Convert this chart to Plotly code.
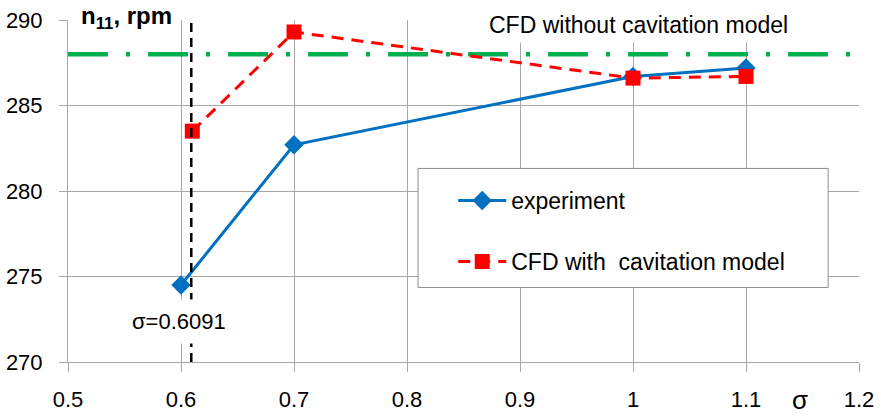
import plotly.graph_objects as go

# ---- data ----
sigma_exp = [0.6, 0.7, 1.0, 1.1]
n11_exp = [274.5, 282.7, 286.7, 287.2]

sigma_cfd = [0.61, 0.7, 1.0, 1.1]
n11_cfd = [283.5, 289.3, 286.6, 286.7]

sigma_nocav = [0.5, 1.2]
n11_nocav = [288, 288]

sigma_crit = 0.6091

x_ticks = [0.5, 0.6, 0.7, 0.8, 0.9, 1.0, 1.1, 1.2]
x_tick_text = ["0.5", "0.6", "0.7", "0.8", "0.9", "1", "1.1", "1.2"]
y_ticks = [270, 275, 280, 285, 290]
y_tick_text = ["270", "275", "280", "285", "290"]

FONT = "Liberation Sans"
GRID = "#a6a6a6"

fig = go.Figure()

fig.add_trace(go.Scatter(
    x=sigma_nocav, y=n11_nocav, mode="lines", showlegend=False,
    line=dict(color="#00b050", width=4.5, dash="40px,18px,4px,18px"),
    hoverinfo="skip",
))
fig.add_trace(go.Scatter(
    x=sigma_exp, y=n11_exp, mode="lines+markers", name="experiment",
    legendgroup="a",
    line=dict(color="#0070c0", width=3),
    marker=dict(symbol="diamond", size=15, color="#0070c0"),
))
fig.add_trace(go.Scatter(
    x=sigma_cfd, y=n11_cfd, mode="lines+markers", name="CFD with  cavitation model",
    legendgroup="b",
    line=dict(color="#ff0000", width=3, dash="12px,8px"),
    marker=dict(symbol="square", size=15, color="#ff0000"),
))

# vertical critical sigma line
fig.add_shape(type="line", xref="x", yref="y",
              x0=sigma_crit, x1=sigma_crit, y0=y_ticks[0], y1=y_ticks[-1],
              line=dict(color="black", width=2.5, dash="9px,6px"), layer="above")

# legend box
fig.add_shape(type="rect", xref="paper", yref="paper",
              x0=0.4425, x1=0.961, y0=0.218, y1=0.566,
              fillcolor="white", line=dict(color="#8c8c8c", width=1), layer="above")

fig.add_annotation(text="<b>n<sub>11</sub>, rpm</b>", xref="paper", yref="paper",
                   x=0.0101, y=1.0073, xanchor="left", yanchor="middle",
                   showarrow=False, font=dict(family=FONT, size=24, color="black"),
                   bgcolor="white", borderpad=4)
fig.add_annotation(text="CFD without cavitation model", xref="paper", yref="paper",
                   x=0.526, y=0.9868, xanchor="left", yanchor="middle",
                   showarrow=False, font=dict(family=FONT, size=23, color="black"),
                   bgcolor="white", borderpad=4, width=350, align="left")
fig.add_annotation(text="σ=0.6091", xref="x", yref="paper",
                   x=0.5985, y=0.1184, xanchor="center", yanchor="middle",
                   showarrow=False, font=dict(family=FONT, size=22, color="black"),
                   bgcolor="white", borderpad=9)
fig.add_annotation(text="σ", xref="paper", yref="paper",
                   x=(800 - 68) / 791, y=(362.5 - 400) / 342, xanchor="center", yanchor="middle",
                   showarrow=False, font=dict(family=FONT, size=26, color="black"))

fig.update_layout(
    width=881, height=416,
    margin=dict(l=68, r=22, t=20, b=54, autoexpand=False),
    paper_bgcolor="white", plot_bgcolor="white",
    font=dict(family=FONT, size=22, color="black"),
    showlegend=True,
    legend=dict(
        x=0.487, y=0.535, xref="paper", yref="paper", xanchor="left", yanchor="top",
        bgcolor="rgba(0,0,0,0)", borderwidth=0,
        font=dict(family=FONT, size=23, color="black"),
        itemwidth=48, tracegroupgap=28,
    ),
    xaxis=dict(
        range=[0.5, 1.2], tickvals=x_ticks, ticktext=x_tick_text,
        showgrid=True, gridcolor=GRID, gridwidth=1, automargin=False,
        showline=True, linecolor=GRID, linewidth=1, mirror=False,
        ticks="outside", ticklen=9, tickcolor=GRID, tickwidth=1,
        ticklabelstandoff=9, zeroline=False, ticklabeloverflow="allow",
        tickfont=dict(family=FONT, size=22, color="black"),
    ),
    yaxis=dict(
        range=[270, 290], tickvals=y_ticks, ticktext=y_tick_text,
        showgrid=True, gridcolor=GRID, gridwidth=1, automargin=False,
        showline=True, linecolor=GRID, linewidth=1,
        ticks="outside", ticklen=8, tickcolor=GRID, tickwidth=1,
        ticklabelstandoff=12, zeroline=False, ticklabeloverflow="allow",
        tickfont=dict(family=FONT, size=22, color="black"),
    ),
)

fig.write_html("out.html", config={"displayModeBar": False},
               post_script="document.body.style.margin='0px';")
